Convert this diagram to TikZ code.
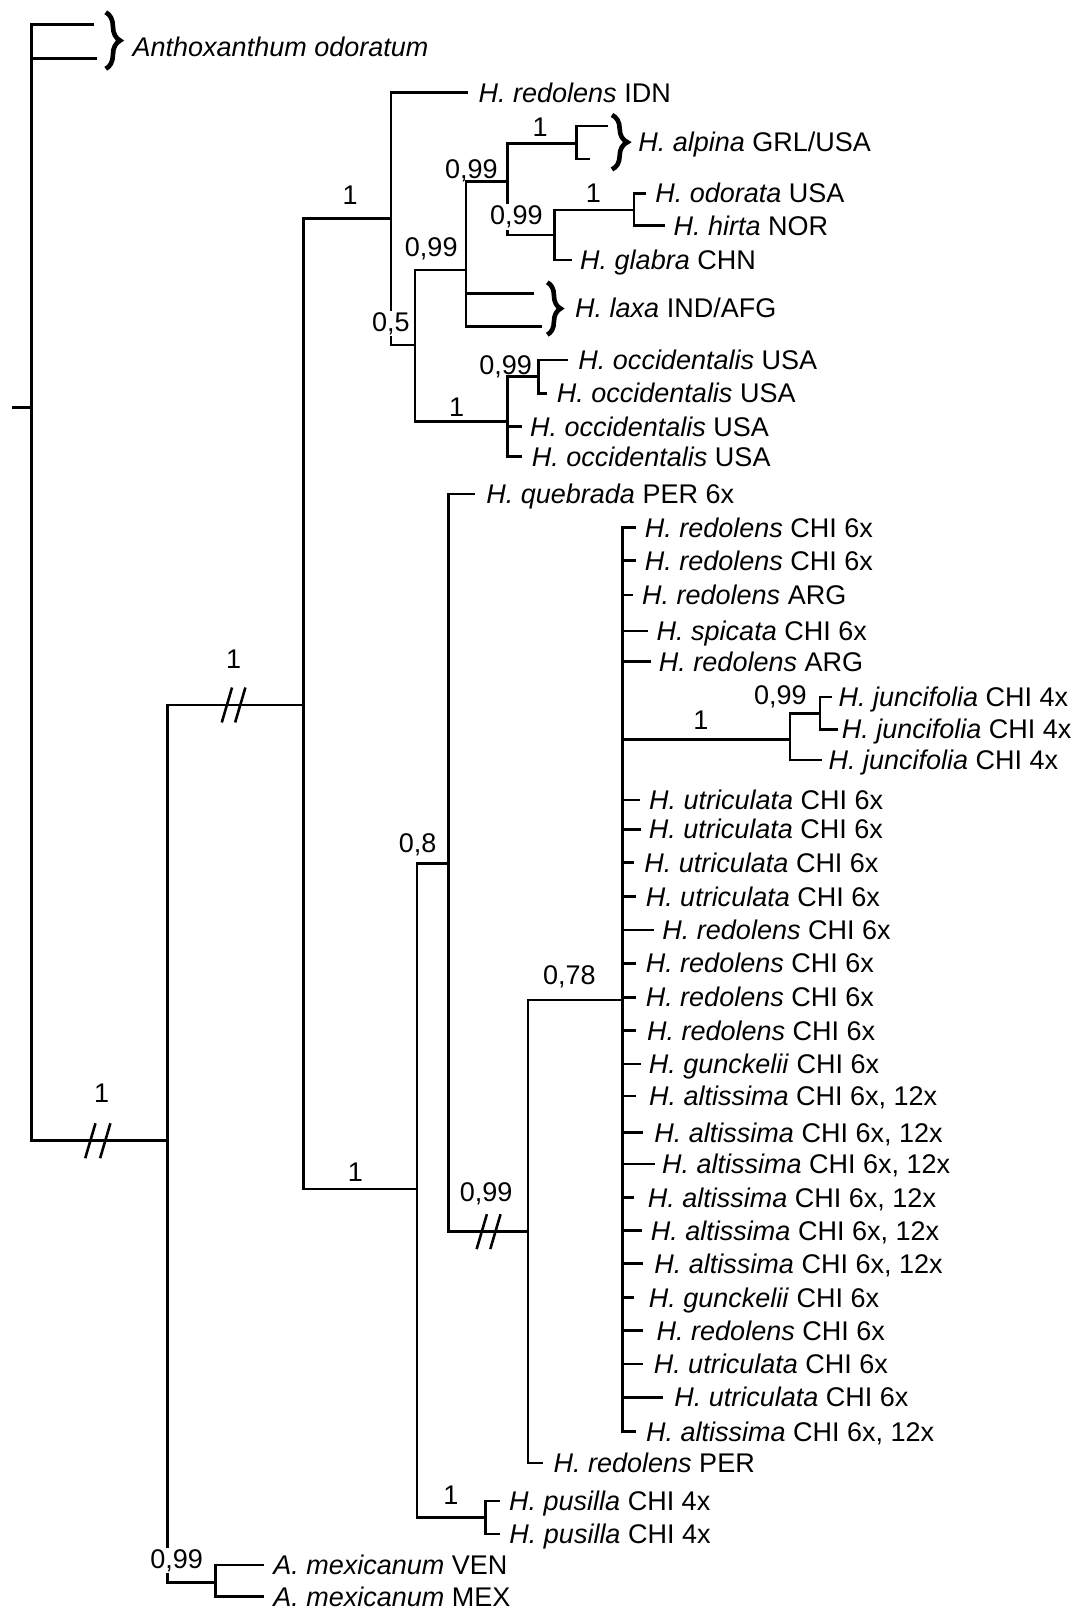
\documentclass[tikz,border=0pt]{standalone}
\usepackage{fontspec}
\setmainfont{Liberation Sans}
\usetikzlibrary{decorations.pathreplacing}
\newcommand\mkleaf[6]{%
  \coordinate (#1) at (#2,#3);
  \node[leaftext] (#1t) at (#4,{#3+9.4}) {\textit{#5} #6};%
}
\newcommand\mklab[4]{\node[suplab] (#1) at (#2,{#3+9.4}) {#4};}
\newcommand\mkwlab[4]{\node[whitelab] (#1) at (#2,{#3+9.4}) {#4};}
\newcommand\slashpair[3]{%
  \draw[slashmark] ({#1-5},{#3+17}) -- ({#1+5},{#3-17});
  \draw[slashmark] ({#2-5},{#3+17}) -- ({#2+5},{#3-17});%
}
\begin{document}
\begin{tikzpicture}[x=1pt,y=-1pt,
  font=\fontsize{26.3}{31}\selectfont,
  treeline/.style={line width=2.5pt, line join=miter},
  slashmark/.style={line width=2.5pt},
  leaftext/.style={anchor=base west, inner sep=0pt},
  suplab/.style={anchor=base, inner sep=0pt},
  whitelab/.style={anchor=base, fill=white, inner sep=1.5pt},
  bracemark/.style={decorate, decoration={brace, amplitude=#1}, line width=4.5pt}]
\useasboundingbox (0,0) rectangle (1046,1568);

% internal nodes
\coordinate (rootstub) at (11.5,397);
\coordinate (root) at (30.5,397);
\coordinate (an1) at (91.5,24);
\coordinate (an2) at (94,57);
\coordinate (nA) at (163,1111);
\coordinate (nB) at (295.4,686.6);
\coordinate (nC) at (381,213);
\coordinate (nD) at (404,336);
\coordinate (nE) at (454,263);
\coordinate (lx1) at (520,285.7);
\coordinate (lx2) at (527.5,318);
\coordinate (nF) at (494.4,177);
\coordinate (nAl) at (561.6,139.6);
\coordinate (al1) at (592.4,122.7);
\coordinate (al2) at (574.6,155);
\coordinate (nG) at (539.9,228.9);
\coordinate (nH) at (617.5,204.5);
\coordinate (nI) at (494.4,410.7);
\coordinate (nJ) at (524.3,366.8);
\coordinate (nK) at (406,1158);
\coordinate (nL) at (437,840.8);
\coordinate (nM) at (514.4,1199.5);
\coordinate (nN) at (606,974);
\coordinate (nO) at (769.4,720);
\coordinate (nP) at (798.6,694.7);
\coordinate (nQ) at (473,1478);
\coordinate (nR) at (210,1541);

% leaves
\node[leaftext] (anthot) at (129,{45.5+9.4}) {\textit{Anthoxanthum odoratum}};
\node[leaftext] (alpt) at (621.5,{138+9.4}) {\textit{H. alpina} GRL/USA};
\node[leaftext] (laxt) at (560,{300+9.4}) {\textit{H. laxa} IND/AFG};
\mkleaf{idn}{456}{90}{466}{H. redolens}{IDN}
\mkleaf{odo}{629}{188.3}{638}{H. odorata}{USA}
\mkleaf{hir}{647.6}{219.8}{655.8}{H. hirta}{NOR}
\mkleaf{gla}{556.7}{253.2}{564.9}{H. glabra}{CHN}
\mkleaf{oc1}{553.5}{350.6}{563.2}{H. occidentalis}{USA}
\mkleaf{oc2}{532.4}{383}{542.2}{H. occidentalis}{USA}
\mkleaf{oc3}{508}{415.5}{516.2}{H. occidentalis}{USA}
\mkleaf{oc4}{508}{444.8}{517.8}{H. occidentalis}{USA}
\mkleaf{que}{462.6}{481}{473.5}{H. quebrada}{PER 6x}
\mkleaf{n01}{619.2}{513.6}{627.8}{H. redolens}{CHI 6x}
\mkleaf{n02}{619.2}{546}{627.8}{H. redolens}{CHI 6x}
\mkleaf{n03}{616.5}{579.5}{625.2}{H. redolens}{ARG}
\mkleaf{n04}{630.8}{614.6}{639.4}{H. spicata}{CHI 6x}
\mkleaf{n05}{633.8}{644.4}{641.6}{H. redolens}{ARG}
\mkleaf{j1}{810}{679}{816.5}{H. juncifolia}{CHI 4x}
\mkleaf{j2}{816.5}{710.3}{819.7}{H. juncifolia}{CHI 4x}
\mkleaf{j3}{800.2}{740.2}{806.7}{H. juncifolia}{CHI 4x}
\mkleaf{n06}{623}{779}{632}{H. utriculata}{CHI 6x}
\mkleaf{n07}{624}{807.7}{631.7}{H. utriculata}{CHI 6x}
\mkleaf{n08}{617.9}{840.1}{627.4}{H. utriculata}{CHI 6x}
\mkleaf{n09}{619.2}{873.3}{628.7}{H. utriculata}{CHI 6x}
\mkleaf{n10}{636.5}{905.7}{645}{H. redolens}{CHI 6x}
\mkleaf{n11}{619.2}{938.2}{628.7}{H. redolens}{CHI 6x}
\mkleaf{n12}{619.2}{971.3}{628.7}{H. redolens}{CHI 6x}
\mkleaf{n13}{619.2}{1003.8}{630}{H. redolens}{CHI 6x}
\mkleaf{n14}{624.3}{1036.2}{631.7}{H. gunckelii}{CHI 6x}
\mkleaf{n15}{619.2}{1067.4}{632}{H. altissima}{CHI 6x, 12x}
\mkleaf{n16}{626.5}{1102.8}{637.2}{H. altissima}{CHI 6x, 12x}
\mkleaf{n17}{638.1}{1133.6}{644.6}{H. altissima}{CHI 6x, 12x}
\mkleaf{n18}{617.9}{1166.1}{630.8}{H. altissima}{CHI 6x, 12x}
\mkleaf{n19}{625.2}{1198.6}{633.8}{H. altissima}{CHI 6x, 12x}
\mkleaf{n20}{626.5}{1230.4}{637.2}{H. altissima}{CHI 6x, 12x}
\mkleaf{n21}{617.9}{1263.5}{631.7}{H. gunckelii}{CHI 6x}
\mkleaf{n22}{626.5}{1296}{639.4}{H. redolens}{CHI 6x}
\mkleaf{n23}{626.5}{1328.4}{636.5}{H. utriculata}{CHI 6x}
\mkleaf{n24}{645.9}{1360.8}{656.6}{H. utriculata}{CHI 6x}
\mkleaf{n25}{619}{1394}{629}{H. altissima}{CHI 6x, 12x}
\mkleaf{per}{528.7}{1425}{539}{H. redolens}{PER}
\mkleaf{pu1}{487}{1462}{495.7}{H. pusilla}{CHI 4x}
\mkleaf{pu2}{487}{1494}{496}{H. pusilla}{CHI 4x}
\mkleaf{ven}{257}{1524}{266}{A. mexicanum}{VEN}
\mkleaf{mex}{257}{1555}{266}{A. mexicanum}{MEX}

% branches
\draw[treeline] (rootstub) -- (root);
\foreach \c in {an1,an2,nA} \draw[treeline] (root) |- (\c);
\foreach \c in {nB,nR} \draw[treeline] (nA) |- (\c);
\foreach \c in {nC,nK} \draw[treeline] (nB) |- (\c);
\foreach \c in {idn,nD} \draw[treeline] (nC) |- (\c);
\foreach \c in {nE,nI} \draw[treeline] (nD) |- (\c);
\foreach \c in {nF,lx1,lx2} \draw[treeline] (nE) |- (\c);
\foreach \c in {nAl,nG} \draw[treeline] (nF) |- (\c);
\foreach \c in {al1,al2} \draw[treeline] (nAl) |- (\c);
\foreach \c in {nH,gla} \draw[treeline] (nG) |- (\c);
\foreach \c in {odo,hir} \draw[treeline] (nH) |- (\c);
\foreach \c in {nJ,oc3,oc4} \draw[treeline] (nI) |- (\c);
\foreach \c in {oc1,oc2} \draw[treeline] (nJ) |- (\c);
\foreach \c in {nL,nQ} \draw[treeline] (nK) |- (\c);
\foreach \c in {que,nM} \draw[treeline] (nL) |- (\c);
\foreach \c in {nN,per} \draw[treeline] (nM) |- (\c);
\foreach \c in {n01,n02,n03,n04,n05,nO,n06,n07,n08,n09,n10,n11,n12,n13,n14,n15,n16,n17,n18,n19,n20,n21,n22,n23,n24,n25}
  \draw[treeline] (nN) |- (\c);
\foreach \c in {nP,j3} \draw[treeline] (nO) |- (\c);
\foreach \c in {j1,j2} \draw[treeline] (nP) |- (\c);
\foreach \c in {pu1,pu2} \draw[treeline] (nQ) |- (\c);
\foreach \c in {ven,mex} \draw[treeline] (nR) |- (\c);

% braces
\draw[bracemark=14pt] (103,12) -- (103,67);
\draw[bracemark=15pt] (596,112) -- (596,165);
\draw[bracemark=13pt] (533,275) -- (533,326);

% broken-branch marks
\slashpair{88}{102.5}{1111}
\slashpair{221}{234}{686.6}
\slashpair{469.2}{482.5}{1199.5}

% support values
\mklab{s1}{341}{190}{1}
\mklab{s2}{420}{240}{0,99}
\mklab{s3}{459}{164}{0,99}
\mklab{s4}{526}{123.4}{1}
\mklab{s6}{577.8}{188.3}{1}
\mklab{s7}{444.8}{396}{1}
\mklab{s8}{492.5}{355.5}{0,99}
\mklab{s9}{406.7}{821.3}{0,8}
\mklab{s10}{554.5}{949.6}{0,78}
\mklab{s11}{682.5}{701}{1}
\mklab{s12}{760}{677}{0,99}
\mklab{s13}{473.5}{1160.6}{0,99}
\mklab{s14}{346}{1141}{1}
\mklab{s15}{439}{1456}{1}
\mklab{s16}{99}{1064}{1}
\mklab{s17}{227.5}{642}{1}
\mkwlab{s5}{503}{209.4}{0,99}
\mkwlab{s18}{380.6}{313.3}{0,5}
\mkwlab{s19}{172}{1518}{0,99}
\end{tikzpicture}
\end{document}
